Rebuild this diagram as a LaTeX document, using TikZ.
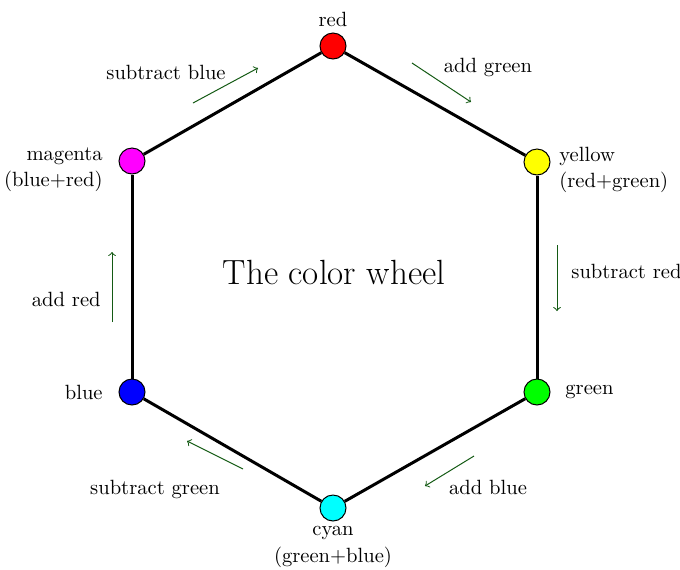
\documentclass[tikz,border=0pt]{standalone}
\definecolor{cRed}{RGB}{255,0,0}
\definecolor{cYellow}{RGB}{255,255,0}
\definecolor{cGreen}{RGB}{0,255,0}
\definecolor{cCyan}{RGB}{0,255,255}
\definecolor{cBlue}{RGB}{0,0,255}
\definecolor{cMagenta}{RGB}{255,0,255}
\definecolor{arrowgreen}{RGB}{20,90,20}
\begin{document}
\begin{tikzpicture}[x=0.5pt,y=-0.5pt,
  cnode/.style={circle,draw=black,line width=0.5pt,minimum size=13pt,inner sep=0pt},
  edge/.style={line width=1.5pt},
  lbl/.style={font=\fontsize{10.3}{13.2}\selectfont,inner sep=0pt},
  stepline/.style={->,draw=arrowgreen,line width=0.5pt}]
\useasboundingbox (0,0) rectangle (680,569);
% vertices
\node[cnode,fill=cRed] (r) at (333,46) {};
\node[cnode,fill=cYellow] (y) at (537,162) {};
\node[cnode,fill=cGreen] (g) at (537,392) {};
\node[cnode,fill=cCyan] (c) at (333,508) {};
\node[cnode,fill=cBlue] (b) at (132,392) {};
\node[cnode,fill=cMagenta] (m) at (132,161) {};
% edges
\draw[edge] (r) -- (y);
\draw[edge] (y) -- (g);
\draw[edge] (g) -- (c);
\draw[edge] (c) -- (b);
\draw[edge] (b) -- (m);
\draw[edge] (m) -- (r);
% vertex labels
\node[lbl] (rl) at (333,19) {red};
\node[lbl,anchor=west,align=left] (yl) at (559,170) {yellow\\(red+green)};
\node[lbl,anchor=west] (gl) at (565,392) {green};
\node[lbl,align=center] (cl) at (333,547) {cyan\\(green+blue)};
\node[lbl,anchor=east] (bl) at (103,392) {blue};
\node[lbl,anchor=east,align=right] (ml) at (103,170) {magenta\\(blue+red)};
% title
\node[font=\fontsize{17.5}{20}\selectfont,inner sep=0pt] (t) at (334,272) {The color wheel};
% step arrows
\coordinate (a1s) at (193,103); \coordinate (a1e) at (258,68);
\draw[stepline] (a1s) -- (a1e);
\node[lbl] (a1l) at (166,72) {subtract blue};
\coordinate (a2s) at (412,63); \coordinate (a2e) at (471,102);
\draw[stepline] (a2s) -- (a2e);
\node[lbl] (a2l) at (488,67) {add green};
\coordinate (a3s) at (557,245); \coordinate (a3e) at (557,311);
\draw[stepline] (a3s) -- (a3e);
\node[lbl,anchor=west] (a3l) at (571,271) {subtract red};
\coordinate (a4s) at (474,456); \coordinate (a4e) at (425,486);
\draw[stepline] (a4s) -- (a4e);
\node[lbl] (a4l) at (488,487) {add blue};
\coordinate (a5s) at (243,469); \coordinate (a5e) at (187,441);
\draw[stepline] (a5s) -- (a5e);
\node[lbl] (a5l) at (155,489) {subtract green};
\coordinate (a6s) at (112,322); \coordinate (a6e) at (112,252);
\draw[stepline] (a6s) -- (a6e);
\node[lbl,anchor=east] (a6l) at (101,299) {add red};
\end{tikzpicture}
\end{document}
